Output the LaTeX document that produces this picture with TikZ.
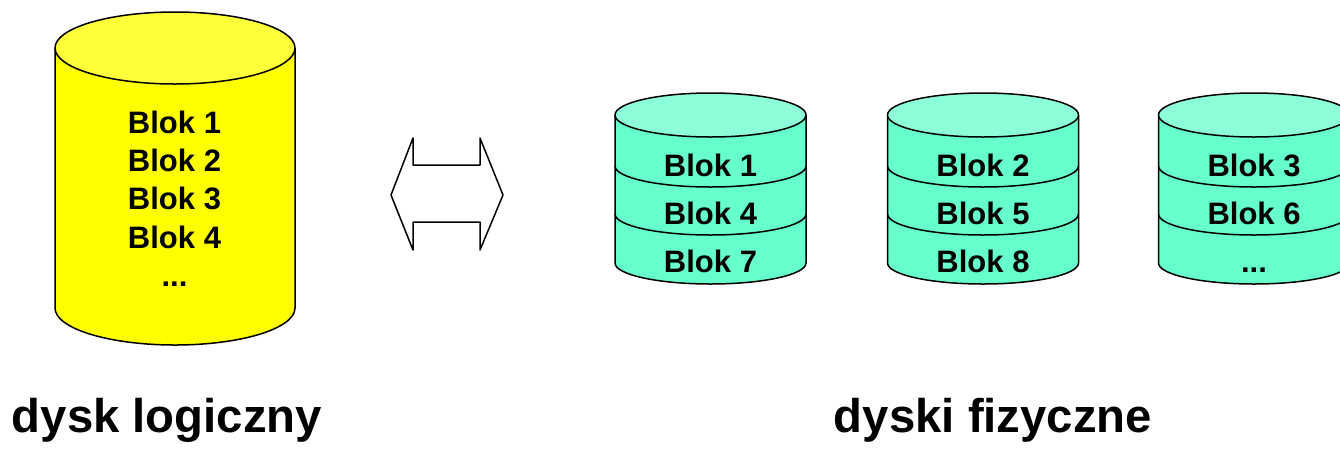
\documentclass[tikz,border=0pt]{standalone}
\usepackage{fontspec}
\setmainfont{Liberation Sans}
\definecolor{ybody}{HTML}{FFFF00}
\definecolor{ytop}{HTML}{FFFF3A}
\definecolor{gbody}{HTML}{66FFCC}
\definecolor{gtop}{HTML}{8CFFD9}
\newcommand{\mydots}{...}
\begin{document}
\begin{tikzpicture}[x=1pt,y=-1pt,
  outl/.style={draw=black,line width=1.5pt,line join=round},
  blk/.style={font=\fontsize{31}{36}\selectfont\bfseries,anchor=base,inner sep=0pt},
  lbl/.style={font=\fontsize{47.3}{54}\selectfont\bfseries,anchor=base,inner sep=0pt}]
\useasboundingbox (0,0) rectangle (1340,448);
\clip (0,0) rectangle (1340,448);
% logical disk
\fill[ybody] (55,48) -- (55,308) arc[start angle=180,end angle=360,x radius=120pt,y radius=37pt] -- (295,48) -- cycle;
\draw[outl] (55,48) -- (55,308) arc[start angle=180,end angle=360,x radius=120pt,y radius=37pt] -- (295,48);
\draw[outl,fill=ytop] (175,48) ellipse[x radius=120pt,y radius=36pt];
\node[blk] (l1) at (174.5,133) {Blok 1};
\node[blk] (l2) at (174.5,171.3) {Blok 2};
\node[blk] (l3) at (174.5,209.6) {Blok 3};
\node[blk] (l4) at (174.5,248) {Blok 4};
\node[blk] (l5) at (174.5,286) {\mydots};
% double arrow
\draw[outl,fill=white] (391,195) -- (413,138) -- (413,165) -- (480,165) -- (480,138) -- (503,195) -- (480,250) -- (480,222) -- (413,222) -- (413,250) -- cycle;
% physical disks
\foreach \cx/\a/\b/\c/\n in {710.5/Blok 1/Blok 4/Blok 7/a, 983/Blok 2/Blok 5/Blok 8/b, 1254/Blok 3/Blok 6/\mydots/c}{
  \fill[gbody] (\cx-95.5,115) -- (\cx-95.5,263) arc[start angle=180,end angle=360,x radius=95.5pt,y radius=21pt] -- (\cx+95.5,115) -- cycle;
  \draw[outl] (\cx-95.5,115) -- (\cx-95.5,263) arc[start angle=180,end angle=360,x radius=95.5pt,y radius=21pt] -- (\cx+95.5,115);
  \draw[outl] (\cx-95.5,166) arc[start angle=180,end angle=360,x radius=95.5pt,y radius=21pt];
  \draw[outl] (\cx-95.5,214) arc[start angle=180,end angle=360,x radius=95.5pt,y radius=21pt];
  \draw[outl,fill=gtop] (\cx,115) ellipse[x radius=95.5pt,y radius=22pt];
  \node[blk] (\n1) at (\cx,176) {\a};
  \node[blk] (\n2) at (\cx,224) {\b};
  \node[blk] (\n3) at (\cx,272.5) {\c};
}
\node[lbl] (logical) at (167,432) {dysk logiczny};
\node[lbl] (physical) at (993,432) {dyski fizyczne};
\end{tikzpicture}
\end{document}
